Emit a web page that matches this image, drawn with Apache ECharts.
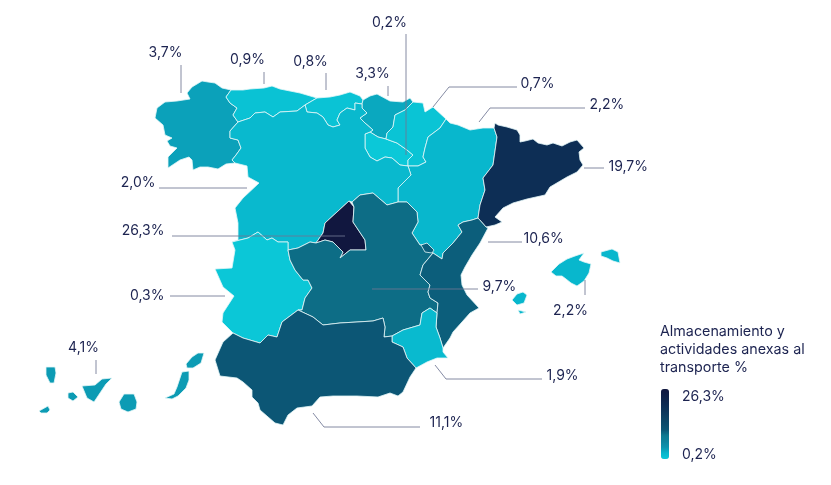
<!DOCTYPE html>
<html>
<head>
<meta charset="utf-8">
<style>html,body{margin:0;padding:0;background:#fff}#chart{width:831px;height:485px}</style>
<script src="https://cdn.jsdelivr.net/npm/echarts@6/dist/echarts.min.js"></script>
</head>
<body>
<div id="chart"></div>
<script>
var regionNames = ['Galicia','Asturias','Cantabria','País Vasco','La Rioja','Navarra','Aragón','Cataluña','Castilla y León','Madrid','Extremadura','Castilla-La Mancha','Valencia','Baleares','Murcia','Andalucía','Canarias'];
var regionValues = [3.7,0.9,0.8,3.3,0.2,0.7,2.2,19.7,2.0,26.3,0.3,9.7,10.6,2.2,1.9,11.1,4.1];
var scaleMin = 0.2;
var scaleMax = 26.3;
var scaleTitle = 'Almacenamiento y\nactividades anexas al\ntransporte %';
var scaleColors = ['#0bc8d8','#08b6cc','#0d94ae','#0e849e','#0e7a90','#0c5675','#0c4c6c','#0d4264','#0d385c','#0d2e55','#0e264d','#0f1f46','#11173f'];

// outlines traced by hand, in page pixels
var shapes = {
  'Galicia': [[[231,90],[226,97],[230,103],[237,108],[233,115],[238,122],[230,131],[230,138],[238,140],[241,148],[236,155],[232,160],[235,163],[226,164],[218,169],[208,167],[200,167],[193,170],[192,160],[189,157],[180,160],[168,168],[168,157],[177,148],[170,146],[167,141],[172,138],[165,135],[163,125],[155,118],[157,108],[165,102],[177,101],[190,99],[187,93],[192,87],[202,81],[208,82],[215,83],[222,88]]],
  'Asturias': [[[231,90],[243,90],[250,89],[264,88],[272,86],[280,89],[300,93],[317,98],[305,105],[297,111],[280,112],[273,117],[265,112],[255,113],[250,118],[238,122],[233,115],[237,108],[230,103],[226,97]]],
  'Cantabria': [[[317,98],[330,97],[340,95],[350,92],[360,96],[363,100],[362,104],[355,103],[355,110],[347,108],[340,113],[337,120],[340,125],[333,127],[328,125],[323,117],[317,113],[307,112],[305,105]]],
  'País Vasco': [[[363,100],[370,96],[377,94],[390,101],[403,102],[410,98],[413,102],[405,110],[395,115],[393,127],[387,133],[386,139],[378,137],[370,132],[373,130],[365,123],[360,118],[367,113],[362,108],[362,104]]],
  'La Rioja': [[[365,134],[370,132],[378,137],[386,139],[397,143],[407,150],[413,155],[408,160],[408,166],[400,165],[392,158],[385,157],[377,161],[370,157],[365,148]]],
  'Navarra': [[[413,102],[423,103],[425,112],[433,107],[446,119],[440,128],[428,137],[425,148],[423,157],[426,162],[418,166],[408,166],[408,160],[413,155],[407,150],[397,143],[386,139],[387,133],[393,127],[395,115],[405,110]]],
  'Aragón': [[[446,119],[450,123],[458,125],[470,130],[483,128],[494,128],[497,137],[493,165],[483,178],[485,190],[480,205],[478,218],[472,220],[463,222],[458,225],[462,232],[453,243],[443,253],[442,259],[433,253],[427,245],[420,245],[412,233],[418,222],[417,212],[407,202],[398,202],[398,188],[411,175],[408,166],[418,166],[426,162],[423,157],[425,148],[428,137],[440,128]]],
  'Cataluña': [[[494,128],[495,123],[498,125],[507,127],[517,130],[520,135],[520,142],[525,141],[533,139],[538,143],[547,145],[553,143],[562,146],[570,142],[577,140],[584,148],[579,152],[580,160],[583,165],[577,172],[567,177],[550,187],[545,195],[527,199],[513,203],[503,208],[495,217],[502,222],[495,225],[486,227],[478,218],[480,205],[485,190],[483,178],[493,165],[497,137]]],
  'Castilla y León': [[[238,122],[250,118],[255,113],[265,112],[273,117],[280,112],[297,111],[305,105],[307,112],[317,113],[323,117],[328,125],[333,127],[340,125],[337,120],[340,113],[347,108],[355,110],[355,103],[362,104],[362,108],[367,113],[360,118],[365,123],[373,130],[370,132],[365,134],[365,148],[370,157],[377,161],[385,157],[392,158],[400,165],[408,166],[411,175],[398,188],[398,202],[387,205],[373,193],[360,195],[352,202],[349,201],[337,212],[325,223],[323,233],[316,243],[310,242],[298,248],[288,250],[288,242],[278,242],[272,238],[267,240],[258,232],[248,238],[232,242],[238,240],[238,223],[235,208],[243,198],[259,183],[248,177],[247,166],[235,163],[232,160],[236,155],[241,148],[238,140],[230,138],[230,131]]],
  'Madrid': [[[316,243],[323,233],[325,223],[337,212],[349,201],[354,207],[353,222],[365,240],[366,250],[350,250],[340,258],[343,252],[333,242],[325,240]]],
  'Extremadura': [[[288,250],[288,242],[278,242],[272,238],[267,240],[258,232],[248,238],[232,242],[235,250],[232,268],[215,269],[223,287],[234,296],[223,313],[222,322],[233,333],[243,338],[260,343],[268,335],[277,337],[282,322],[298,310],[302,310],[305,298],[312,288],[308,280],[303,280],[295,270],[290,260]]],
  'Castilla-La Mancha': [[[352,202],[360,195],[373,193],[387,205],[398,202],[407,202],[417,212],[418,222],[412,233],[420,245],[427,245],[433,253],[423,265],[420,275],[430,285],[428,292],[430,298],[438,303],[437,313],[430,308],[422,313],[420,325],[403,330],[392,336],[384,337],[385,327],[383,318],[373,321],[357,322],[340,323],[323,325],[313,317],[298,310],[302,310],[305,298],[312,288],[308,280],[303,280],[295,270],[290,260],[288,250],[298,248],[310,242],[316,243],[325,240],[333,242],[343,252],[340,258],[350,250],[366,250],[365,240],[353,222],[354,207]]],
  'Valencia': [[[486,227],[488,228],[480,243],[472,255],[465,267],[461,275],[462,285],[467,295],[479,308],[470,313],[462,322],[453,332],[450,338],[443,348],[440,338],[436,327],[437,313],[438,303],[430,298],[428,292],[430,285],[420,275],[423,265],[433,253],[442,259],[443,253],[453,243],[462,232],[458,225],[463,222],[472,220],[478,218]],[[421,245],[427,243],[434,250],[432,253],[425,252]]],
  'Baleares': [[[551,272],[559,264],[567,259],[575,256],[584,253],[579,260],[584,262],[591,264],[589,273],[584,281],[577,286],[571,283],[566,279],[562,276],[556,276]],[[601,252],[612,249],[618,252],[620,263],[613,261],[607,258],[601,256]],[[512,300],[517,294],[523,292],[527,295],[524,303],[517,305]],[[518,310],[526,312],[520,314]]],
  'Murcia': [[[437,313],[430,308],[422,313],[420,325],[403,330],[392,336],[392,342],[403,347],[407,358],[416,368],[427,362],[437,358],[448,358],[443,352],[443,348],[440,338],[436,327]]],
  'Andalucía': [[[298,310],[313,317],[323,325],[340,323],[357,322],[373,321],[383,318],[385,327],[384,337],[392,336],[392,342],[403,347],[407,358],[416,368],[410,377],[403,392],[398,396],[390,393],[378,397],[357,396],[333,396],[320,397],[312,406],[297,408],[288,415],[283,425],[275,423],[260,410],[258,403],[252,397],[252,390],[243,382],[237,378],[220,376],[215,360],[223,342],[233,333],[243,338],[260,343],[268,335],[277,337],[282,322]]],
  'Canarias': [[[39,411],[48,406],[50,410],[47,413],[41,413]],[[46,367],[55,367],[56,373],[54,383],[50,383],[46,375]],[[68,393],[73,392],[78,397],[73,401],[68,398]],[[82,386],[95,385],[102,379],[112,378],[106,384],[100,393],[94,402],[87,398]],[[119,402],[124,394],[134,394],[137,402],[136,409],[128,412],[121,409]],[[165,398],[174,394],[177,387],[182,372],[189,371],[189,380],[186,388],[178,396],[172,399]],[[186,364],[192,357],[198,353],[204,353],[201,363],[193,368],[187,368]]]
};

// leader line and where its number sits
var leaders = {
  'Galicia': {line:[[181,65],[181,93]], at:[166,53], align:'center'},
  'Asturias': {line:[[264,72],[264,84]], at:[248,60], align:'center'},
  'Cantabria': {line:[[326,73],[326,90]], at:[311,62], align:'center'},
  'País Vasco': {line:[[388,86],[388,96]], at:[373,74], align:'center'},
  'La Rioja': {line:[[406,34],[406,155]], at:[390,23], align:'center'},
  'Navarra': {line:[[433,107],[449,87],[517,87]], at:[521,84], align:'left'},
  'Aragón': {line:[[479,122],[490,108],[585,108]], at:[590,105], align:'left'},
  'Cataluña': {line:[[584,168],[604,168]], at:[609,167], align:'left'},
  'Castilla y León': {line:[[159,188],[247,188]], at:[156,183], align:'right'},
  'Madrid': {line:[[172,236],[345,236]], at:[165,231], align:'right'},
  'Extremadura': {line:[[170,296],[225,296]], at:[165,296], align:'right'},
  'Castilla-La Mancha': {line:[[372,289],[478,289]], at:[483,287], align:'left'},
  'Valencia': {line:[[488,242],[522,242]], at:[524,239], align:'left'},
  'Baleares': {line:[[585,280],[585,295]], at:[571,311], align:'center'},
  'Murcia': {line:[[435,365],[446,379],[542,379]], at:[547,376], align:'left'},
  'Andalucía': {line:[[313,413],[324,427],[420,427]], at:[430,423], align:'left'},
  'Canarias': {line:[[96,360],[96,374]], at:[84,348], align:'center'}
};

function toGeo(p) { return [p[0], -p[1]]; }
function pct(v) { return v.toFixed(1).replace('.', ',') + '%'; }

var features = regionNames.map(function (name) {
  return {
    type: 'Feature',
    properties: {name: name},
    geometry: {
      type: 'MultiPolygon',
      coordinates: shapes[name].map(function (ring) { return [ring.map(toGeo)]; })
    }
  };
});
echarts.registerMap('spain', {type: 'FeatureCollection', features: features});

var textColor = '#1c2350';
var fontName = 'Inter';

var myChart = echarts.init(document.getElementById('chart'));
var option = {
  animation: false,
  title: {
    text: scaleTitle,
    left: 660, top: 323, padding: 0,
    textStyle: {color: textColor, fontFamily: fontName, fontSize: 14.3, fontWeight: 'normal', lineHeight: 18}
  },
  visualMap: {
    type: 'continuous',
    seriesIndex: 0,
    min: scaleMin, max: scaleMax,
    left: 661, top: 389,
    itemWidth: 8, itemHeight: 70,
    padding: 0,
    text: null,
    calculable: false,
    hoverLink: false,
    inRange: {color: scaleColors}
  },
  geo: {
    map: 'spain',
    roam: false,
    silent: true,
    aspectScale: 1,
    boundingCoords: [[0, 0], [831, -485]],
    layoutCenter: ['50%', '50%'],
    layoutSize: 831,
    label: {show: false},
    itemStyle: {borderColor: '#e3f6f8', borderWidth: 0.8}
  },
  graphic: [
    {type: 'text', left: 682, top: 390, style: {text: pct(scaleMax), fill: textColor, font: '14px ' + fontName}},
    {type: 'text', left: 682, top: 448, style: {text: pct(scaleMin), fill: textColor, font: '14px ' + fontName}}
  ],
  series: [
    {
      type: 'map',
      geoIndex: 0,
      silent: true,
      data: regionNames.map(function (n, i) { return {name: n, value: regionValues[i]}; })
    },
    {
      type: 'lines',
      coordinateSystem: 'geo',
      polyline: true,
      silent: true,
      z: 5,
      lineStyle: {color: '#6f7593', width: 1, opacity: 0.85},
      data: regionNames.map(function (n) { return {coords: leaders[n].line.map(toGeo)}; })
    },
    {
      type: 'scatter',
      coordinateSystem: 'geo',
      silent: true,
      z: 6,
      symbolSize: 1,
      itemStyle: {color: 'rgba(0,0,0,0)', opacity: 1},
      data: regionNames.map(function (n, i) {
        return {
          name: n,
          value: toGeo(leaders[n].at),
          label: {
            show: true,
            position: [0, 0],
            align: leaders[n].align,
            verticalAlign: 'middle',
            formatter: pct(regionValues[i]),
            color: textColor,
            opacity: 1,
            fontFamily: fontName,
            fontSize: 14
          }
        };
      })
    }
  ]
};
myChart.setOption(option);
</script>
</body>
</html>
